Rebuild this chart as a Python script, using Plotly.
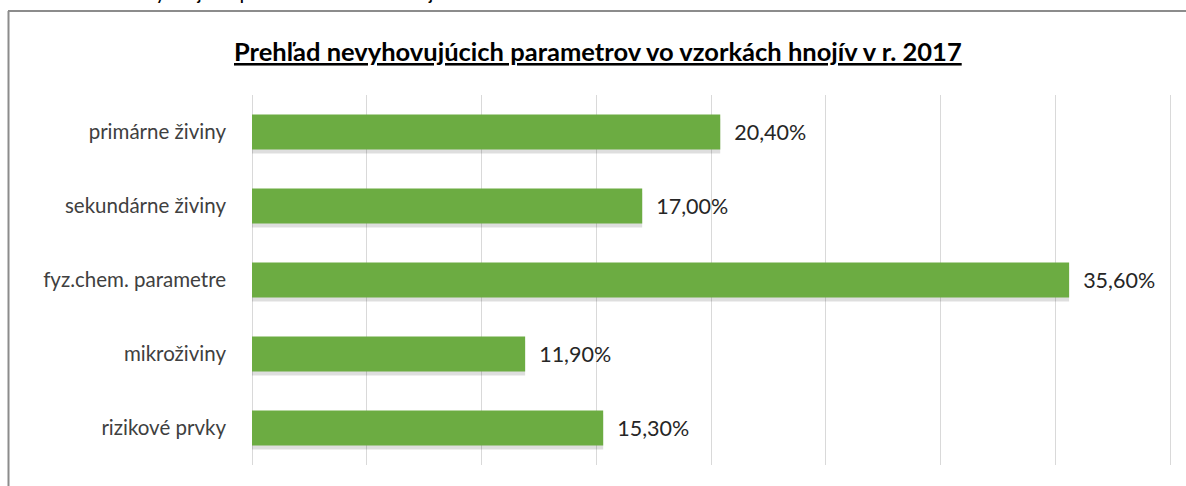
import plotly.graph_objects as go

categories = ["primárne živiny", "sekundárne živiny", "fyz.chem. parametre", "mikroživiny", "rizikové prvky"]
values = [20.4, 17.0, 35.6, 11.9, 15.3]
labels = ["\u00a0\u00a0" + f"{v:.2f}%".replace(".", ",") for v in values]

title_text = "<b><u>Prehľad nevyhovujúcich parametrov vo vzorkách hnojív v r. 2017</u></b>"
caption_text = "<b>Graf č. 2 – Prehľad nevyhovujúcich parametrov vo vzorkách hnojív v r. 2017</b>"

W, H = 1186, 486
L, R, T, B = 252, 9, 95, 21
pw, ph = W - L - R, H - T - B

def px(x):
    return (x - L) / pw

def py(y):
    return 1 - (y - T) / ph

FONT = "Lato, Open Sans, sans-serif"
BW = 0.47

fig = go.Figure()
# soft shadow beneath bars
fig.add_trace(go.Bar(
    y=categories, x=values, orientation="h",
    marker=dict(color="rgba(0,0,0,0.13)", line=dict(width=0)),
    width=BW, offset=-BW / 2 + 0.055,
    hoverinfo="skip",
))
fig.add_trace(go.Bar(
    y=categories, x=values, orientation="h",
    marker=dict(color="#6cac42", line=dict(width=0)),
    width=BW, offset=-BW / 2,
    text=labels, textposition="outside",
    textfont=dict(family=FONT, size=21.5, color="#262626"),
    cliponaxis=False,
    hoverinfo="skip",
))

fig.update_layout(
    width=W, height=H,
    margin=dict(l=L, r=R, t=T, b=B),
    paper_bgcolor="white", plot_bgcolor="white",
    showlegend=False, barmode="overlay",
    xaxis=dict(range=[0, 40.3], dtick=5, showticklabels=False, showgrid=True,
               gridcolor="#d9d9d9", gridwidth=1, zeroline=True,
               zerolinecolor="#d9d9d9", zerolinewidth=1, showline=False, fixedrange=True),
    yaxis=dict(autorange="reversed", showgrid=False, showline=False, ticks="",
               ticklabelstandoff=25, fixedrange=True,
               tickfont=dict(family=FONT, size=20.5, color="#404040")),
    font=dict(family=FONT),
)

fig.add_annotation(text=title_text, xref="paper", yref="paper",
                   x=px(598), y=py(51), xanchor="center", yanchor="middle",
                   showarrow=False,
                   font=dict(family=FONT, size=25.5, color="#000000"))
fig.add_annotation(text=caption_text, xref="paper", yref="paper",
                   x=px(4), y=py(-6), xanchor="left", yanchor="middle",
                   showarrow=False,
                   font=dict(family=FONT, size=15, color="#000000"))

# chart frame (left and top borders)
fig.add_shape(type="line", xref="paper", yref="paper", x0=px(8.5), x1=px(8.5), y0=py(11), y1=py(500),
              line=dict(color="#8c8c8c", width=2))
fig.add_shape(type="line", xref="paper", yref="paper", x0=px(8), x1=px(1200), y0=py(11), y1=py(11),
              line=dict(color="#8c8c8c", width=2))

fig.write_html("out.html", config={"displayModeBar": False},
               post_script="document.body.style.margin='0px';document.body.style.overflow='hidden';")
